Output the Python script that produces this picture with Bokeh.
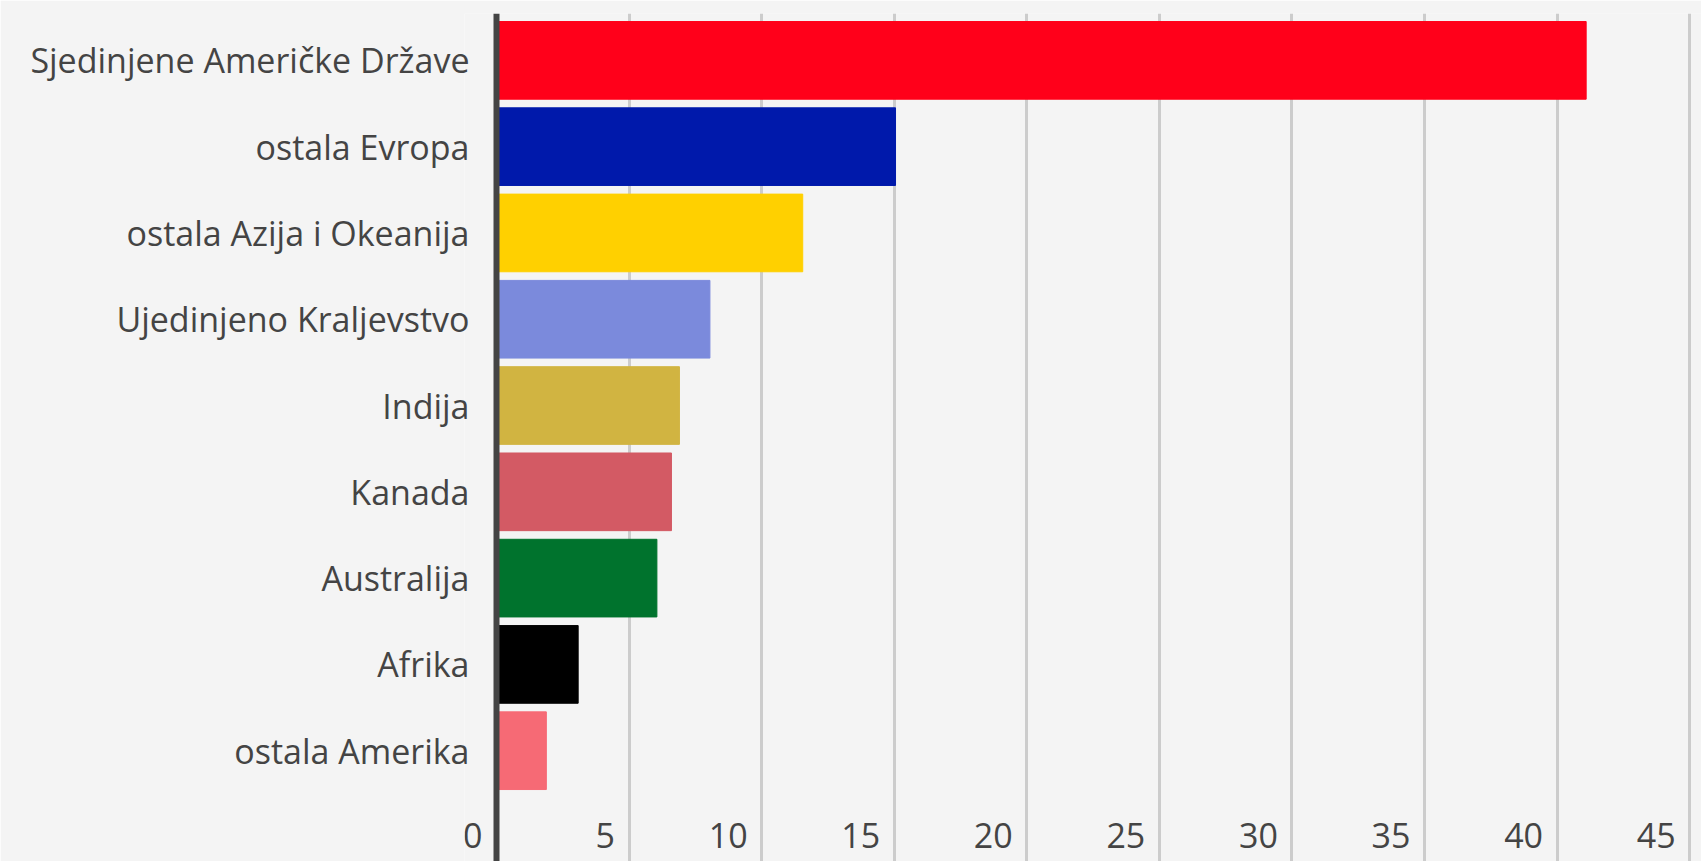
from bokeh.plotting import figure
from bokeh.models import Range1d, FixedTicker, ColumnDataSource, LabelSet, Span
from bokeh.core.properties import value
from bokeh.embed import file_html
from bokeh.resources import INLINE

# ---- data ----
categories = [
    "Sjedinjene Američke Države",
    "ostala Evropa",
    "ostala Azija i Okeanija",
    "Ujedinjeno Kraljevstvo",
    "Indija",
    "Kanada",
    "Australija",
    "Afrika",
    "ostala Amerika",
]
values = [41.1, 15.05, 11.55, 8.05, 6.9, 6.6, 6.05, 3.08, 1.88]
x_ticks = [0, 5, 10, 15, 20, 25, 30, 35, 40, 45]
x_tick_labels = ["0", "5", "10", "15", "20", "25", "30", "35", "40", "45"]

# ---- styles ----
palette = ["#ff001a", "#0019ab", "#ffd000", "#7b8adc", "#d1b441",
           "#d35a64", "#00732d", "#000000", "#f66a75"]
BG = "#f4f4f4"
TXT = "#444444"
FONT = "Open Sans"

n = len(categories)
ypos = [n - 1 - i for i in range(n)]  # top category at the top

src = ColumnDataSource(dict(y=ypos, right=values, color=palette, name=categories))

p = figure(
    width=1701, height=861,
    x_range=Range1d(-1.207, 45.45),
    y_range=Range1d(-1.284, 8.543),
    output_backend="svg", toolbar_location=None,
    x_axis_location=None,
    min_border_left=464, min_border_right=0,
    min_border_top=13, min_border_bottom=0,
)
p.background_fill_color = BG
p.border_fill_color = BG
p.outline_line_color = None

p.hbar(y="y", left=0, right="right", height=0.9, color="color", source=src)

# y axis with category labels
ax = p.yaxis[0]
ax.ticker = FixedTicker(ticks=ypos)
ax.major_label_overrides = {y: c for y, c in zip(ypos, categories)}
ax.axis_line_color = None
ax.major_tick_line_color = None
ax.minor_tick_line_color = None
ax.major_label_text_font = FONT
ax.major_label_text_font_size = "34px"
ax.major_label_text_color = TXT
ax.major_label_standoff = -11

# axis line at x = 0
p.add_layout(Span(location=0, dimension="height", line_color=TXT, line_width=6))

# grid
p.ygrid.visible = False
p.xgrid.ticker = FixedTicker(ticks=x_ticks[1:])
p.xgrid.grid_line_color = "#cccccc"
p.xgrid.grid_line_width = 3

# x tick labels inside the plot area, right aligned before each grid line
lab = ColumnDataSource(dict(x=x_ticks, y=[-0.983] * len(x_ticks), t=x_tick_labels))
p.add_layout(LabelSet(x="x", y="y", text="t", source=lab, x_offset=-14,
                      text_align="right", text_baseline="middle",
                      text_font=value(FONT), text_font_size="34px", text_color=TXT))

open("out.html", "w").write(file_html(p, INLINE))
